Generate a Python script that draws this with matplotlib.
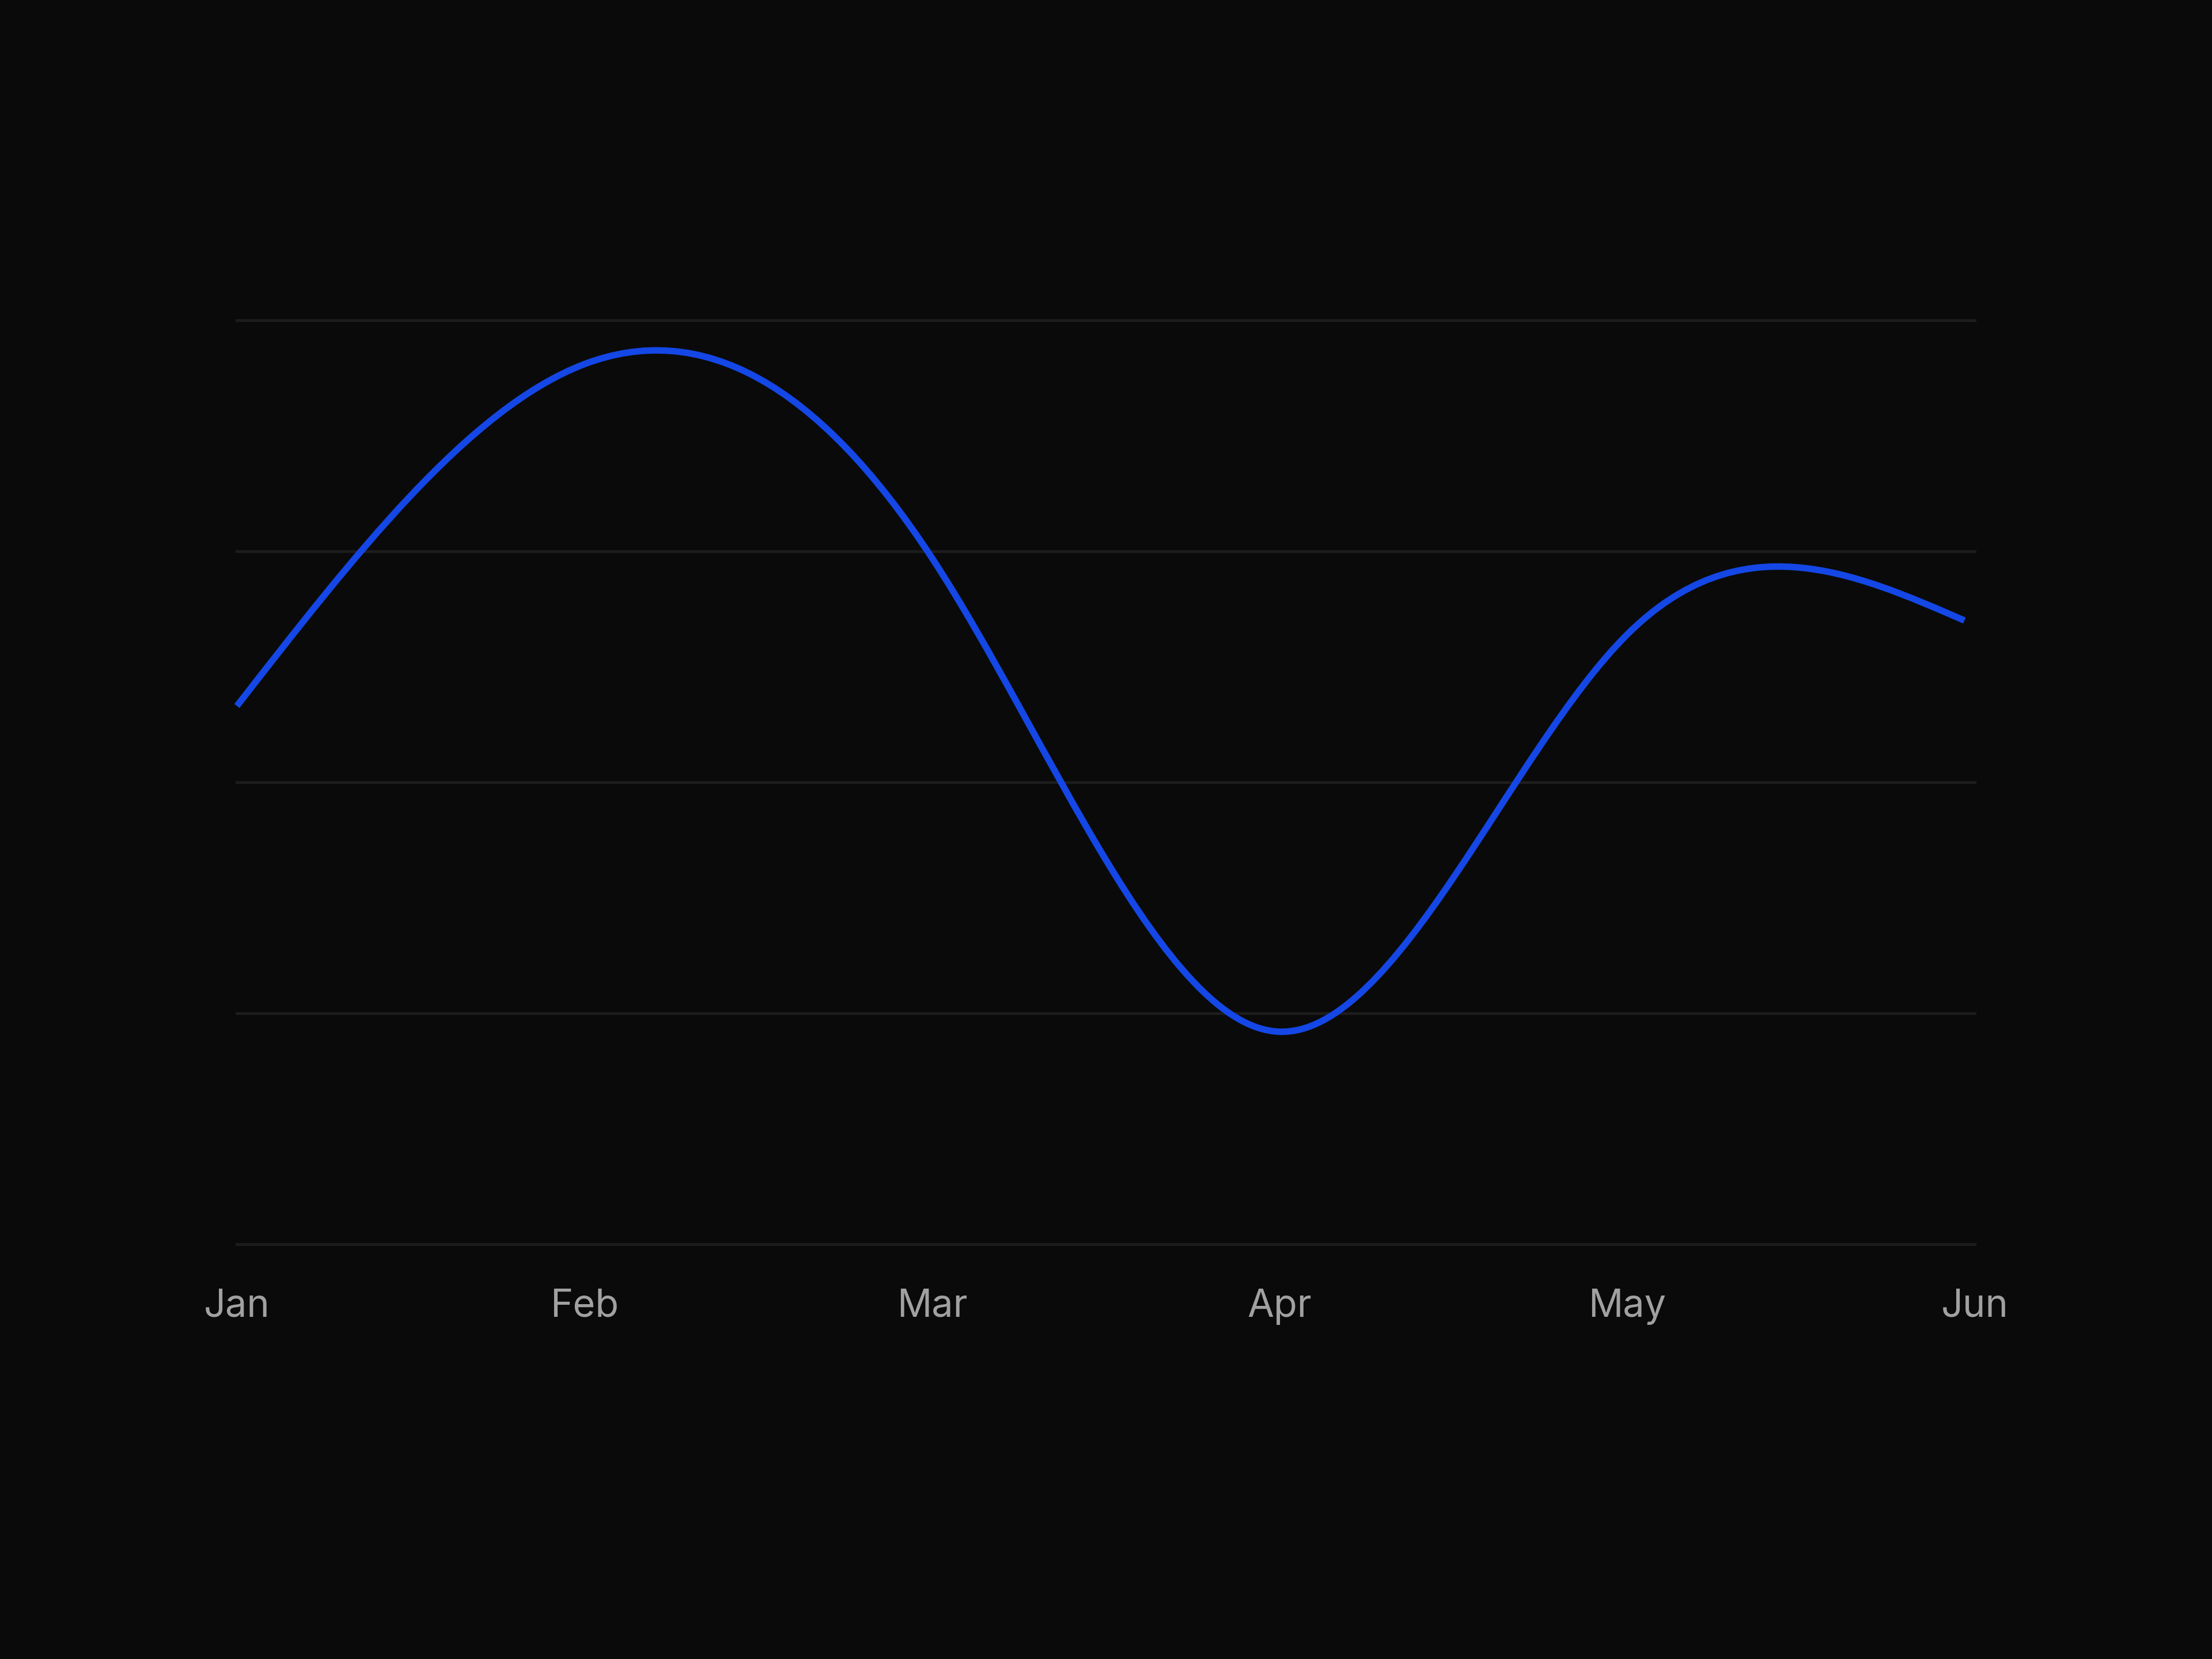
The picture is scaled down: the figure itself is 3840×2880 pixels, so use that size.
"""Dark single-series line chart, Jan-Jun."""

import numpy as np
import matplotlib
matplotlib.use("Agg")
import matplotlib.pyplot as plt
from matplotlib.path import Path
from matplotlib.patches import PathPatch

# ---- data ----
months = ["Jan", "Feb", "Mar", "Apr", "May", "Jun"]
point_x = [0, 1, 2, 3, 4, 4.97]
point_y = [233, 381, 297, 92, 264, 270]
grid_values = [0, 100, 200, 300, 400]

BG = "#0a0a0a"
GRID = "#1c1c1c"
LABEL = "#a1a1a1"
LINE = "#1447e6"


def natural_path(xs, ys):
    """Natural cubic spline through the points, as a bezier Path."""
    xs = np.asarray(xs, float)
    ys = np.asarray(ys, float)
    n = len(xs)
    h = np.diff(xs)
    A = np.zeros((n, n))
    r = np.zeros(n)
    A[0, 0] = A[-1, -1] = 1
    for i in range(1, n - 1):
        A[i, i - 1] = h[i - 1]
        A[i, i] = 2 * (h[i - 1] + h[i])
        A[i, i + 1] = h[i]
        r[i] = 6 * ((ys[i + 1] - ys[i]) / h[i] - (ys[i] - ys[i - 1]) / h[i - 1])
    M = np.linalg.solve(A, r)

    verts = [(xs[0], ys[0])]
    codes = [Path.MOVETO]
    for i in range(n - 1):
        s = (ys[i + 1] - ys[i]) / h[i]
        d0 = s - h[i] * (2 * M[i] + M[i + 1]) / 6
        d1 = s + h[i] * (M[i] + 2 * M[i + 1]) / 6
        dx = h[i] / 3
        verts += [(xs[i] + dx, ys[i] + dx * d0),
                  (xs[i + 1] - dx, ys[i + 1] - dx * d1),
                  (xs[i + 1], ys[i + 1])]
        codes += [Path.CURVE4] * 3
    return Path(verts, codes)


plt.rcParams["font.family"] = ["Inter", "DejaVu Sans"]

fig = plt.figure(figsize=(16, 12), dpi=240, facecolor=BG)
ax = fig.add_axes([0.1071, 0.25, 0.7857, 0.557])
ax.set_facecolor(BG)

ax.set_xlim(0, len(months) - 1)
ax.set_ylim(grid_values[0], grid_values[-1])

for side in ax.spines.values():
    side.set_visible(False)

ax.set_yticks(grid_values)
ax.set_yticklabels([])
ax.tick_params(axis="y", length=0)
ax.yaxis.grid(True, color=GRID, linewidth=1.5)
for gl in ax.get_ygridlines():
    gl.set_clip_on(False)
ax.set_axisbelow(True)

ax.set_xticks(range(len(months)))
ax.set_xticklabels(months)
ax.tick_params(axis="x", length=0, pad=23, labelsize=20, labelcolor=LABEL)

patch = PathPatch(natural_path(point_x, point_y), facecolor="none", edgecolor=LINE,
                  linewidth=3.4, capstyle="butt", joinstyle="round",
                  transform=ax.transData, clip_on=False, zorder=3)
ax.add_patch(patch)

fig.savefig("out.png", dpi=240, facecolor=BG)
